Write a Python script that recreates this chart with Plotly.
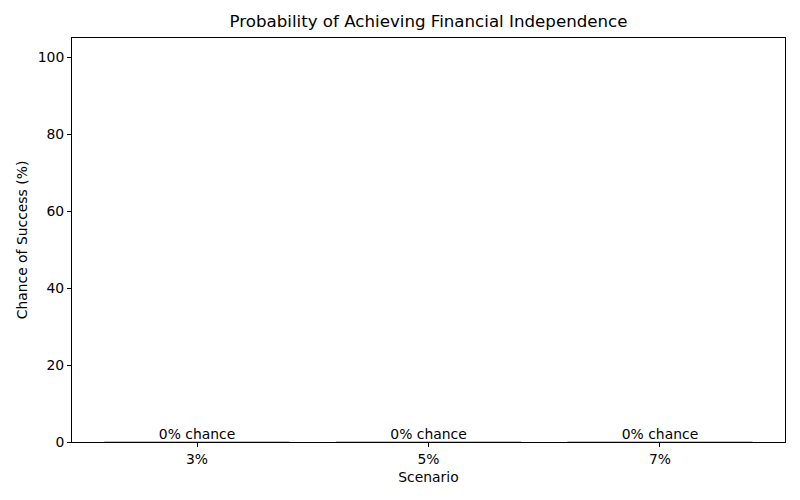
import plotly.graph_objects as go

scenarios = ["3%", "5%", "7%"]
success_pct = [0, 0, 0]
bar_labels = [f"{v:.0f}% chance" for v in success_pct]

font = "DejaVu Sans"
fs = 13.9
fig = go.Figure()
fig.add_trace(go.Bar(
    x=list(range(len(scenarios))), y=success_pct, width=0.8,
    marker=dict(color="#4caf50", line=dict(color="#8fbf8f", width=1)),
    showlegend=False, hoverinfo="skip"))
fig.add_trace(go.Scatter(
    x=list(range(len(scenarios))), y=success_pct, mode="text",
    text=bar_labels, textposition="top center",
    textfont=dict(family=font, size=fs, color="black"),
    showlegend=False, hoverinfo="skip"))

axis_common = dict(showline=True, linecolor="black", linewidth=1, mirror=True,
                   ticks="outside", ticklen=4, tickcolor="black", showgrid=False,
                   zeroline=False, tickfont=dict(family=font, size=fs, color="black"))
fig.update_layout(
    width=800, height=500, plot_bgcolor="white", paper_bgcolor="white",
    margin=dict(l=64, r=23, t=30, b=66),
    title=dict(text="Probability of Achieving Financial Independence", x=0.5, xref="paper",
               xanchor="center", y=1, yref="paper", yanchor="bottom", pad=dict(b=11),
               font=dict(family=font, size=16.67, color="black")),
    xaxis=dict(range=[-0.54, 2.54], tickmode="array", tickvals=list(range(len(scenarios))),
               ticktext=scenarios,
               title=dict(text="Scenario", font=dict(family=font, size=fs, color="black"), standoff=6),
               **axis_common),
    yaxis=dict(range=[0, 105], tickvals=[0, 20, 40, 60, 80, 100],
               title=dict(text="Chance of Success (%)", font=dict(family=font, size=fs, color="black"), standoff=6),
               **axis_common),
)
fig.write_html("out.html")
